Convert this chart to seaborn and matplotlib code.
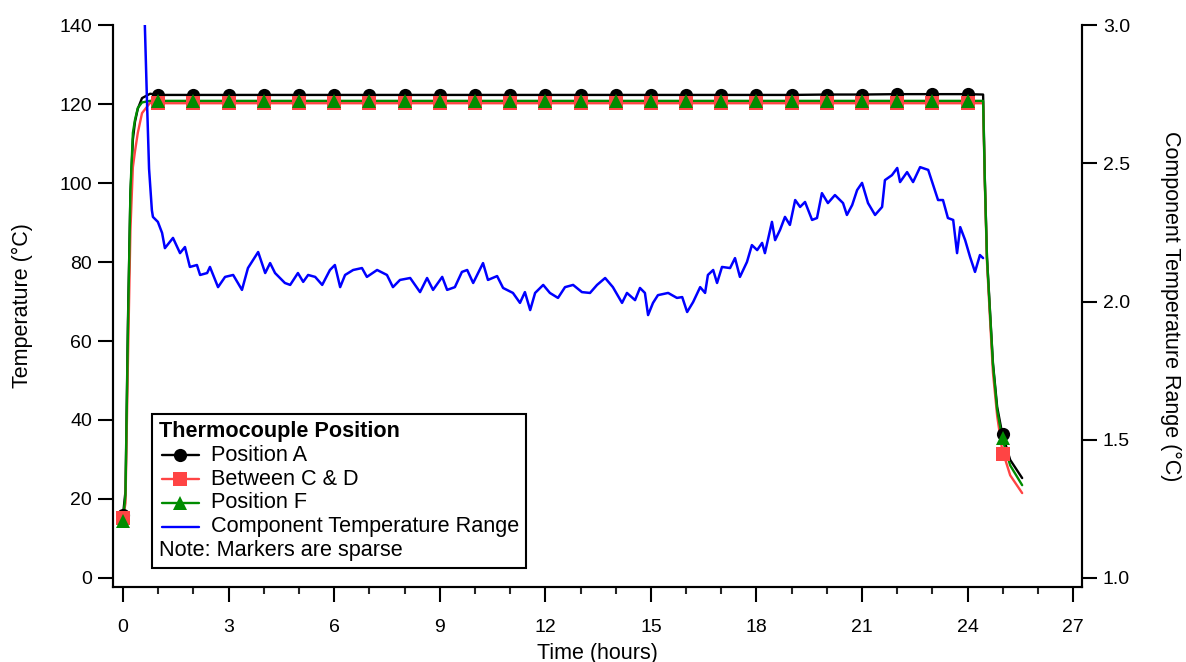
import matplotlib
matplotlib.use("Agg")
import matplotlib.pyplot as plt
import seaborn as sns
from matplotlib.lines import Line2D
from matplotlib.offsetbox import AnchoredOffsetbox, VPacker, HPacker, TextArea, DrawingArea
from matplotlib.ticker import MultipleLocator, FormatStrFormatter

sns.set_style("white")
plt.rcParams['font.family'] = ['Liberation Sans', 'DejaVu Sans']
plt.rcParams['text.color'] = 'black'
plt.rcParams['axes.labelcolor'] = 'black'

# thermocouple traces (hours, degC)
tc_time = [0.0, 0.07, 0.14, 0.21, 0.28, 0.34, 0.42, 0.54, 0.77, 1.0,
           2, 3, 4, 5, 6, 7, 8, 9, 10, 11, 12, 13, 14, 15, 16, 17, 18, 19, 20, 21, 22, 23, 24,
           24.44, 24.49, 24.55, 24.64, 24.72, 24.84, 24.98, 25.21, 25.55]
pos_a = [16, 22, 65, 97, 111, 115.5, 118.8, 121.5, 122.6, 122.3,
         122.3, 122.3, 122.3, 122.3, 122.3, 122.3, 122.3, 122.3, 122.3, 122.3, 122.3, 122.3,
         122.3, 122.3, 122.3, 122.3, 122.3, 122.3, 122.4, 122.4, 122.5, 122.5, 122.5,
         122.4, 100.8, 81.3, 67.0, 54.4, 43.3, 36.7, 29.9, 25.3]
pos_cd = [15, 19, 55, 88, 104, 108, 112.7, 117.7, 120.3, 120.2,
          120.2, 120.2, 120.2, 120.2, 120.2, 120.2, 120.2, 120.2, 120.2, 120.2, 120.2, 120.2,
          120.2, 120.2, 120.2, 120.2, 120.2, 120.2, 120.2, 120.2, 120.2, 120.2, 120.2,
          120.2, 99.5, 80.0, 65.0, 52.0, 41.0, 32.5, 26.0, 21.5]
pos_f = [14.5, 21, 63, 98, 112.7, 116, 119, 120.4, 120.8, 120.8,
         120.8, 120.8, 120.8, 120.8, 120.8, 120.8, 120.8, 120.8, 120.8, 120.8, 120.8, 120.8,
         120.8, 120.8, 120.8, 120.8, 120.8, 120.8, 120.8, 120.8, 120.8, 120.8, 120.8,
         120.8, 100.5, 81.0, 66.5, 54.0, 42.5, 35.5, 28.5, 23.5]

# sparse markers
mark_time = [0, 1, 2, 3, 4, 5, 6, 7, 8, 9, 10, 11, 12, 13, 14, 15, 16, 17, 18, 19, 20, 21, 22, 23, 24, 25]
mark_a = [16, 122.3, 122.3, 122.3, 122.3, 122.3, 122.3, 122.3, 122.3, 122.3, 122.3, 122.3, 122.3,
          122.3, 122.3, 122.3, 122.3, 122.3, 122.3, 122.3, 122.4, 122.4, 122.5, 122.5, 122.5, 36.5]
mark_cd = [15.2, 120.2, 120.2, 120.2, 120.2, 120.2, 120.2, 120.2, 120.2, 120.2, 120.2, 120.2, 120.2,
           120.2, 120.2, 120.2, 120.2, 120.2, 120.2, 120.2, 120.2, 120.2, 120.2, 120.2, 120.2, 31.5]
mark_f = [14.5, 120.8, 120.8, 120.8, 120.8, 120.8, 120.8, 120.8, 120.8, 120.8, 120.8, 120.8, 120.8,
          120.8, 120.8, 120.8, 120.8, 120.8, 120.8, 120.8, 120.8, 120.8, 120.8, 120.8, 120.8, 35.4]

# component temperature range (degC), right axis
blue_time = [0.57, 0.62, 0.68, 0.74, 0.82, 0.85, 0.99, 1.11, 1.19, 1.42, 1.62, 1.76, 1.90, 2.10,
             2.19, 2.39, 2.47, 2.70, 2.90, 3.13, 3.38, 3.55, 3.84, 4.04, 4.18, 4.32, 4.60, 4.75,
             4.97, 5.12, 5.26, 5.46, 5.66, 5.88, 6.02, 6.17, 6.31, 6.54, 6.79, 6.93, 7.22, 7.50,
             7.67, 7.87, 8.16, 8.44, 8.64, 8.81, 9.07, 9.21, 9.43, 9.63, 9.78, 9.95, 10.23, 10.37,
             10.63, 10.80, 11.08, 11.28, 11.42, 11.57, 11.71, 11.94, 12.13, 12.36, 12.56, 12.79,
             13.04, 13.27, 13.47, 13.70, 13.92, 14.18, 14.32, 14.55, 14.69, 14.83, 14.92, 15.06,
             15.20, 15.49, 15.74, 15.89, 16.03, 16.20, 16.40, 16.54, 16.62, 16.77, 16.88, 17.02,
             17.25, 17.39, 17.53, 17.73, 17.87, 18.02, 18.16, 18.24, 18.44, 18.53, 18.67, 18.81,
             18.95, 19.10, 19.24, 19.38, 19.58, 19.72, 19.86, 20.03, 20.23, 20.46, 20.57, 20.72,
             20.86, 21.00, 21.17, 21.37, 21.57, 21.65, 21.85, 22.00, 22.08, 22.28, 22.45, 22.65,
             22.88, 23.02, 23.16, 23.30, 23.44, 23.59, 23.70, 23.79, 23.93, 24.07, 24.21, 24.35,
             24.44]
blue_range = [3.25, 3.00, 2.73, 2.48, 2.33, 2.306, 2.288, 2.248, 2.193, 2.230, 2.175, 2.197, 2.125,
              2.132, 2.096, 2.103, 2.125, 2.052, 2.089, 2.096, 2.042, 2.121, 2.179, 2.103, 2.139,
              2.103, 2.067, 2.060, 2.103, 2.071, 2.096, 2.089, 2.060, 2.114, 2.132, 2.052, 2.096,
              2.114, 2.121, 2.089, 2.114, 2.096, 2.052, 2.078, 2.085, 2.034, 2.085, 2.042, 2.089,
              2.042, 2.052, 2.107, 2.114, 2.067, 2.139, 2.078, 2.092, 2.049, 2.031, 1.995, 2.034,
              1.969, 2.031, 2.060, 2.031, 2.013, 2.052, 2.060, 2.034, 2.031, 2.060, 2.085, 2.052,
              1.995, 2.031, 2.005, 2.049, 2.031, 1.951, 1.995, 2.023, 2.031, 2.013, 2.016, 1.962,
              1.998, 2.052, 2.031, 2.096, 2.114, 2.067, 2.125, 2.121, 2.157, 2.089, 2.143, 2.204,
              2.186, 2.212, 2.175, 2.288, 2.222, 2.259, 2.306, 2.277, 2.367, 2.342, 2.360, 2.295,
              2.302, 2.392, 2.356, 2.385, 2.356, 2.313, 2.349, 2.403, 2.429, 2.356, 2.313, 2.342,
              2.439, 2.457, 2.483, 2.432, 2.468, 2.432, 2.486, 2.476, 2.421, 2.367, 2.367, 2.302,
              2.295, 2.175, 2.269, 2.222, 2.161, 2.107, 2.168, 2.157]

names = ["Position A", "Between C & D", "Position F"]
colors = ["black", "#ff4444", "#008c00"]
markers = ["o", "s", "^"]

fig = plt.figure(figsize=(11.86, 6.62), dpi=100)
ax = fig.add_axes([0.0953, 0.1133, 0.817, 0.8489])

for yl, c in zip([pos_a, pos_cd, pos_f], colors):
    sns.lineplot(x=tc_time, y=yl, color=c, lw=1.7, ax=ax, sort=False)
for ym, c, m in zip([mark_a, mark_cd, mark_f], colors, markers):
    ax.plot(mark_time, ym, ls="none", marker=m, color=c, ms=9.5, mew=0)

ax.set_xlim(-0.284, 27.25)
ax.set_ylim(-2.28, 140)
ax.xaxis.set_major_locator(MultipleLocator(3))
ax.xaxis.set_minor_locator(MultipleLocator(1))
ax.yaxis.set_major_locator(MultipleLocator(20))

ax2 = ax.twinx()
sns.lineplot(x=blue_time, y=blue_range, color="#0000ff", lw=1.8, ax=ax2, sort=False)
ax2.set_ylim(1 - 2.28 / 70, 3.0)
ax2.yaxis.set_major_locator(MultipleLocator(0.5))
ax2.yaxis.set_major_formatter(FormatStrFormatter("%.1f"))

for a in (ax, ax2):
    a.spines["top"].set_visible(False)
    for s in a.spines.values():
        s.set_linewidth(1.5)
        s.set_color("black")
    a.tick_params(which="major", length=11, width=1.5, direction="out", labelsize=14, colors="black")
    a.tick_params(which="minor", length=5, width=1.5, direction="out")
ax.tick_params(axis="x", which="major", pad=12, bottom=True)
ax.tick_params(axis="x", which="minor", bottom=True)
ax.tick_params(axis="y", left=True, pad=4)
ax2.tick_params(axis="y", right=True, pad=4)

ax.set_xlabel("Time (hours)", fontsize=15.5, labelpad=5, color="black")
ax.set_ylabel("Temperature (\u00b0C)", fontsize=15.5, labelpad=19, color="black")
ax2.set_ylabel("Component Temperature Range (\u00b0C)", fontsize=15.5, rotation=270, labelpad=37,
               color="black")

# legend box
tp = dict(fontsize=15.6, color="black")
rows = [TextArea("Thermocouple Position", textprops=dict(tp, fontweight="bold"))]
for n, c, m in zip(names + ["Component Temperature Range"], colors + ["#0000ff"], markers + [None]):
    da = DrawingArea(29, 10, 0, 0)
    da.add_artist(Line2D([2, 29], [5, 5], color=c, lw=1.7))
    if m:
        da.add_artist(Line2D([15.5], [5], marker=m, color=c, ms=9.5, mew=0, ls="none"))
    rows.append(HPacker(children=[da, TextArea(n, textprops=tp)], sep=8.5, align="center"))
rows.append(TextArea("Note: Markers are sparse", textprops=tp))
box = VPacker(children=rows, sep=2.0, align="left")
leg = AnchoredOffsetbox(loc="lower left", child=box, pad=0.5, borderpad=0, frameon=True,
                        prop=dict(size=10), bbox_to_anchor=(0.040, 0.034), bbox_transform=ax.transAxes)
leg.patch.set_edgecolor("black")
leg.patch.set_linewidth(1.5)
leg.patch.set_boxstyle("square", pad=0)
ax2.add_artist(leg)

fig.savefig("out.png", dpi=100)
